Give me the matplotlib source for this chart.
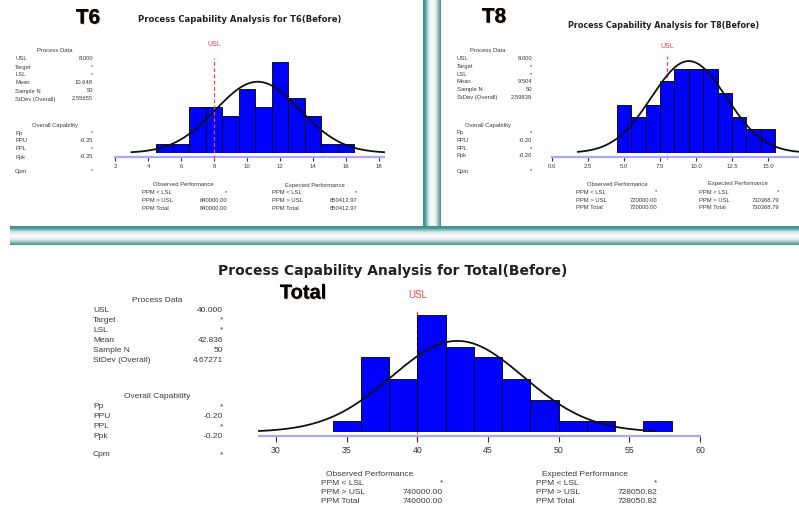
import matplotlib.pyplot as plt
import matplotlib.patheffects as pe
import numpy as np
from matplotlib.colors import LinearSegmentedColormap

W, H = 799, 508

# ---- data ----
t6_centers = [5, 6, 7, 8, 9, 10, 11, 12, 13, 14, 15, 16]
t6_counts = [1, 1, 5, 5, 4, 7, 5, 10, 6, 4, 1, 1]
t6_mean, t6_sd, t6_usl = 10.648, 2.55655, 8.0
t6_ticks = [2, 4, 6, 8, 10, 12, 14, 16, 18]
t6_ticklabels = ['2', '4', '6', '8', '10', '12', '14', '16', '18']
t6_process = ['8.000', '*', '*', '10.648', '50', '2.55655']
t6_capability = ['*', '-0.35', '*', '-0.35']
t6_observed = ['*', '840000.00', '840000.00']
t6_expected = ['*', '850412.97', '850412.97']

t8_centers = [5, 6, 7, 8, 9, 10, 11, 12, 13, 14, 15]
t8_counts = [4, 3, 4, 6, 7, 7, 7, 5, 3, 2, 2]
t8_mean, t8_sd, t8_usl = 9.504, 2.59839, 8.0
t8_ticks = [0, 2.5, 5, 7.5, 10, 12.5, 15]
t8_ticklabels = ['0.0', '2.5', '5.0', '7.5', '10.0', '12.5', '15.0']
t8_process = ['8.000', '*', '*', '9.504', '50', '2.59839']
t8_capability = ['*', '-0.20', '*', '-0.20']
t8_observed = ['*', '720000.00', '720000.00']
t8_expected = ['*', '730368.79', '730368.79']

tot_centers = [35, 37, 39, 41, 43, 45, 47, 49, 51, 53, 55, 57]
tot_counts = [1, 7, 5, 11, 8, 7, 5, 3, 1, 1, 0, 1]
tot_mean, tot_sd, tot_usl = 42.836, 4.67271, 40.0
tot_ticks = [30, 35, 40, 45, 50, 55, 60]
tot_ticklabels = ['30', '35', '40', '45', '50', '55', '60']
tot_process = ['40.000', '*', '*', '42.836', '50', '4.67271']
tot_capability = ['*', '-0.20', '*', '-0.20']
tot_observed = ['*', '740000.00', '740000.00']
tot_expected = ['*', '728050.82', '728050.82']

process_labels = ['USL', 'Target', 'LSL', 'Mean', 'Sample N', 'StDev (Overall)']
capability_labels = ['Pp', 'PPU', 'PPL', 'Ppk']
perf_labels = ['PPM < LSL', 'PPM > USL', 'PPM Total']

plt.rcParams['font.family'] = ['Liberation Sans', 'DejaVu Sans']

fig = plt.figure(figsize=(W / 100, H / 100), dpi=100)
fig.patch.set_facecolor('white')

TEXT = '#3a3a3a'


def px_axes(left, top, right, bottom):
    return fig.add_axes([left / W, 1 - bottom / H, (right - left) / W, (bottom - top) / H])


def ptext(x, y, s, size, ha='left', **kw):
    kw.setdefault('color', TEXT)
    return fig.text(x / W, 1 - y / H, s, fontsize=size, ha=ha, va='center', **kw)


def draw_hist(ax, centers, counts, width, mean, sd, usl, xlim, ytop, curve_lo, curve_hi,
              ticks, ticklabels, tick_size, usl_front, usl_top, usl_label_y, usl_size,
              pad=2, tick_len=3):
    ax.bar(centers, counts, width=width, color='#0000ff', edgecolor='black',
           linewidth=0.6, zorder=2)
    n = sum(counts)
    x = np.linspace(curve_lo, curve_hi, 300)
    y = n * width * np.exp(-0.5 * ((x - mean) / sd) ** 2) / (sd * np.sqrt(2 * np.pi))
    ax.plot(x, y, color='#111111', lw=1.3, zorder=4, clip_on=False)
    ax.axvline(usl, ymin=-0.06, ymax=usl_top, color='#ff4040', lw=0.9, ls=(0, (3, 2)),
               zorder=5 if usl_front else 1, clip_on=False)
    ax.text(usl, usl_label_y, 'USL', transform=ax.get_xaxis_transform(), ha='center',
            va='center', color='#ff4040', fontsize=usl_size)
    ax.set_xlim(*xlim)
    ax.set_ylim(0, ytop)
    for s in ['top', 'right', 'left']:
        ax.spines[s].set_visible(False)
    ax.spines['bottom'].set_position(('outward', 3))
    ax.spines['bottom'].set_color('#a8a8f4')
    ax.spines['bottom'].set_linewidth(1.6)
    ax.set_yticks([])
    ax.set_xticks(ticks)
    ax.set_xticklabels(ticklabels)
    ax.tick_params(axis='x', direction='out', length=tick_len, width=0.8, color='#333333',
                   labelsize=tick_size, labelcolor=TEXT, pad=pad)
    ax.patch.set_alpha(0)


def draw_blocks(x_lab, x_val, x_mid, y_proc, step, y_cap, y_cpm, size, process, capability):
    ptext(x_mid, y_proc, 'Process Data', size, ha='center')
    for i, (lab, val) in enumerate(zip(process_labels, process)):
        ptext(x_lab, y_proc + step * (i + 1), lab, size)
        ptext(x_val, y_proc + step * (i + 1), val, size, ha='right')
    ptext(x_mid, y_cap, 'Overall Capability', size, ha='center')
    for i, (lab, val) in enumerate(zip(capability_labels, capability)):
        ptext(x_lab, y_cap + step * (i + 1), lab, size)
        ptext(x_val, y_cap + step * (i + 1), val, size, ha='right')
    ptext(x_lab, y_cpm, 'Cpm', size)
    ptext(x_val, y_cpm, '*', size, ha='right')


def draw_perf(x_mid, x_lab, x_val, y0, step, size, title, values):
    ptext(x_mid, y0, title, size, ha='center')
    for i, (lab, val) in enumerate(zip(perf_labels, values)):
        ptext(x_lab, y0 + step * (i + 1), lab, size)
        ptext(x_val, y0 + step * (i + 1), val, size, ha='right')


# ---- decorative slide bars ----
bg = fig.add_axes([0, 0, 1, 1], zorder=-5)
bar_cmap = LinearSegmentedColormap.from_list(
    'bar', [(0, '#3f8e8e'), (0.12, '#4f9a9a'), (0.3, '#cfe5e5'), (0.5, '#ffffff'),
            (0.7, '#e6f0f0'), (0.87, '#8cbaba'), (1, '#3f8e8e')])
grad = np.linspace(0, 1, 64)
bg.imshow(grad[:, None], cmap=bar_cmap, aspect='auto', extent=(10, W, 245, 226),
          interpolation='bilinear')
bg.imshow(grad[None, :], cmap=bar_cmap, aspect='auto', extent=(423, 441, 226, 0),
          interpolation='bilinear')
bg.set_xlim(0, W)
bg.set_ylim(H, 0)
bg.axis('off')

shadow = [pe.withSimplePatchShadow(offset=(0.7, -0.7), shadow_rgbFace='#b8834a', alpha=0.5),
          pe.Normal()]
TITLE_FONT = ['DejaVu Sans']

# ---- T6 ----
ptext(88, 18, 'T6', 15, ha='center', weight='bold', color='black', path_effects=shadow)
ptext(240, 19, 'Process Capability Analysis for T6(Before)', 6.1, ha='center',
      weight='bold', color='#222222', family=TITLE_FONT)
ax6 = px_axes(115, 58, 384, 153)
draw_hist(ax6, t6_centers, t6_counts, 1, t6_mean, t6_sd, t6_usl, (2, 18.3), 10.4, 3.0, 18.3,
          t6_ticks, t6_ticklabels, 4.3, True, 1.0, 1.14, 5)
draw_blocks(15, 93, 55, 51, 8, 125, 171, 4.2, t6_process, t6_capability)
draw_perf(183, 142, 227, 185, 7.8, 4.2, 'Observed Performance', t6_observed)
draw_perf(315, 272, 357, 185, 7.8, 4.2, 'Expected Performance', t6_expected)

# ---- T8 ----
ptext(494, 17, 'T8', 15, ha='center', weight='bold', color='black', path_effects=shadow)
ptext(664, 25, 'Process Capability Analysis for T8(Before)', 5.8, ha='center',
      weight='bold', color='#222222', family=TITLE_FONT)
ax8 = px_axes(552, 56, 804, 153)
draw_hist(ax8, t8_centers, t8_counts, 1, t8_mean, t8_sd, t8_usl, (0, 17.5), 8.1, 1.8, 17.5,
          t8_ticks, t8_ticklabels, 4.3, False, 1.0, 1.10, 5)
draw_blocks(457, 532, 488, 51, 7.7, 125, 171, 4.2, t8_process, t8_capability)
draw_perf(617, 576, 657, 184, 8, 4.2, 'Observed Performance', t8_observed)
draw_perf(738, 699, 779, 184, 8, 4.2, 'Expected Performance', t8_expected)

# ---- Total ----
ptext(393, 271, 'Process Capability Analysis for Total(Before)', 10, ha='center',
      weight='bold', color='#222222', family=TITLE_FONT)
ptext(303, 293, 'Total', 14.5, ha='center', weight='bold', color='black', path_effects=shadow)
axt = px_axes(259, 305, 700, 432)
draw_hist(axt, tot_centers, tot_counts, 2, tot_mean, tot_sd, tot_usl, (28.8, 60), 11.9,
          28.8, 56.8, tot_ticks, tot_ticklabels, 6.3, False, 0.97, 1.08, 7,
          pad=2.5, tick_len=4.5)
draw_blocks(93, 223, 157, 300, 10, 397, 455, 6.0, tot_process, tot_capability)
draw_perf(370, 321, 443, 474, 9.3, 6.0, 'Observed Performance', tot_observed)
draw_perf(585, 536, 657, 474, 9.3, 6.0, 'Expected Performance', tot_expected)

fig.savefig('out.png', dpi=100)
